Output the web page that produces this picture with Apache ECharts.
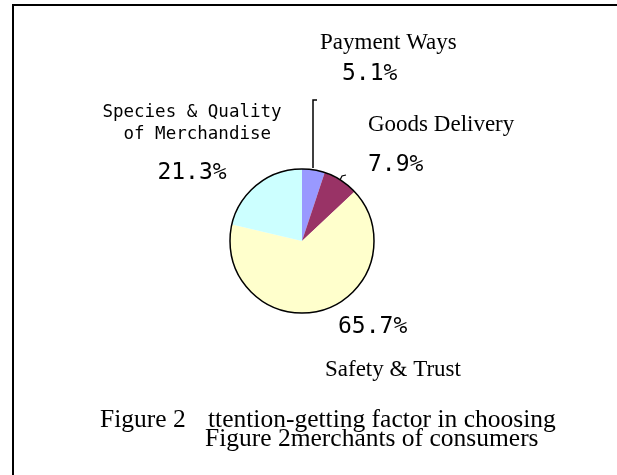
<!DOCTYPE html>
<html>
<head>
<meta charset="utf-8">
<script src="https://cdn.jsdelivr.net/npm/echarts@6/dist/echarts.min.js"></script>
<style>
  html, body { margin: 0; padding: 0; background: #fff; }
  #main { width: 617px; height: 475px; }
</style>
</head>
<body>
<div id="main"></div>
<script>
  // 数据
  var categories = ["Payment Ways", "Goods Delivery", "Safety & Trust", "Species & Quality\nof Merchandise"];
  var shares = [5.1, 7.9, 65.7, 21.3];
  var sliceColors = ["#9999ff", "#993366", "#ffffcc", "#ccffff"];
  var captionLead = "Figure 2";
  var captionLine1 = "ttention-getting factor in choosing";
  var captionLine2 = "Figure 2merchants of consumers";

  // 标签位置
  var labelPos = [
    { x: 320, y: 30, align: "left" },
    { x: 368, y: 112, align: "left" },
    { x: 325, y: 309, align: "left" },
    { x: 192, y: 101, align: "center" }
  ];

  var serif = "'Liberation Serif', 'Times New Roman', serif";
  var mono = "'DejaVu Sans Mono', monospace";

  var myChart = echarts.init(document.getElementById("main"));

  function pct(i) {
    return shares[i].toFixed(1) + "%";
  }

  var labelTexts = [
    "{ns|" + categories[0] + "}\n{pc0|" + pct(0) + "}",
    "{ns|" + categories[1] + "}\n{g1|}\n{pc|" + pct(1) + "}",
    "{pc2|" + pct(2) + "}\n{g2|}\n{ns|" + categories[2] + "}",
    "{nm|Species & Quality}\n{nm| of Merchandise}\n{g3|}\n{pc|" + pct(3) + "}"
  ];

  var pieData = categories.map(function (name, i) {
    return {
      name: name,
      value: shares[i],
      itemStyle: { color: sliceColors[i] },
      label: { formatter: labelTexts[i] }
    };
  });

  var option = {
    animation: false,
    backgroundColor: "#fff",
    graphic: [
      // 外框 (上、左)
      { type: "line", shape: { x1: 12, y1: 5, x2: 617, y2: 5 }, style: { stroke: "#000", lineWidth: 2 } },
      { type: "line", shape: { x1: 13, y1: 5, x2: 13, y2: 475 }, style: { stroke: "#000", lineWidth: 2 } },
      // 引导线
      { type: "polyline", shape: { points: [[317, 100], [313, 100], [313, 168]] }, style: { stroke: "#000", lineWidth: 1.5, fill: "none" } },
      { type: "polyline", shape: { points: [[346, 175], [342, 176], [340, 180]] }, style: { stroke: "#000", lineWidth: 1.2, fill: "none" } },
      // 图题 (第二行被第一行的白底遮住顶部)
      { type: "text", z: 10, style: { x: 205, y: 439, text: captionLine2, font: "25.5px " + serif, fill: "#000", verticalAlign: "middle" } },
      { type: "rect", z: 10.5, shape: { x: 208, y: 405, width: 352, height: 23 }, style: { fill: "#fff" } },
      { type: "text", z: 11, style: { x: 100, y: 420, text: captionLead, font: "25.5px " + serif, fill: "#000", verticalAlign: "middle" } },
      { type: "text", z: 11, style: { x: 208, y: 420, text: captionLine1, font: "25.5px " + serif, fill: "#000", verticalAlign: "middle" } }
    ],
    series: [
      {
        type: "pie",
        center: [302, 241],
        radius: 72,
        startAngle: 90,
        clockwise: true,
        silent: true,
        data: pieData,
        itemStyle: { borderWidth: 0 },
        label: {
          show: true,
          position: "outside",
          color: "#000",
          rich: {
            ns: { fontFamily: serif, fontSize: 23, lineHeight: 26 },
            nm: { fontFamily: mono, fontSize: 17.5, lineHeight: 22 },
            pc: { fontFamily: mono, fontSize: 23, lineHeight: 36 },
            pc0: { fontFamily: mono, fontSize: 23, lineHeight: 36, padding: [0, 0, 0, 22] },
            pc2: { fontFamily: mono, fontSize: 23, lineHeight: 36, padding: [0, 0, 0, 13] },
            g1: { height: 9 },
            g2: { height: 12 },
            g3: { height: 10 }
          }
        },
        labelLine: { show: false },
        labelLayout: function (params) {
          var p = labelPos[params.dataIndex];
          return { x: p.x, y: p.y, align: p.align, verticalAlign: "top" };
        }
      },
      {
        // 外圈黑色轮廓
        type: "pie",
        center: [302, 241],
        radius: 72,
        silent: true,
        label: { show: false },
        labelLine: { show: false },
        data: [{ value: 1, itemStyle: { color: "none", borderColor: "#000", borderWidth: 1.5 } }]
      }
    ]
  };

  myChart.setOption(option);
  window.addEventListener("resize", function () {
    myChart.resize();
  });
</script>
</body>
</html>
